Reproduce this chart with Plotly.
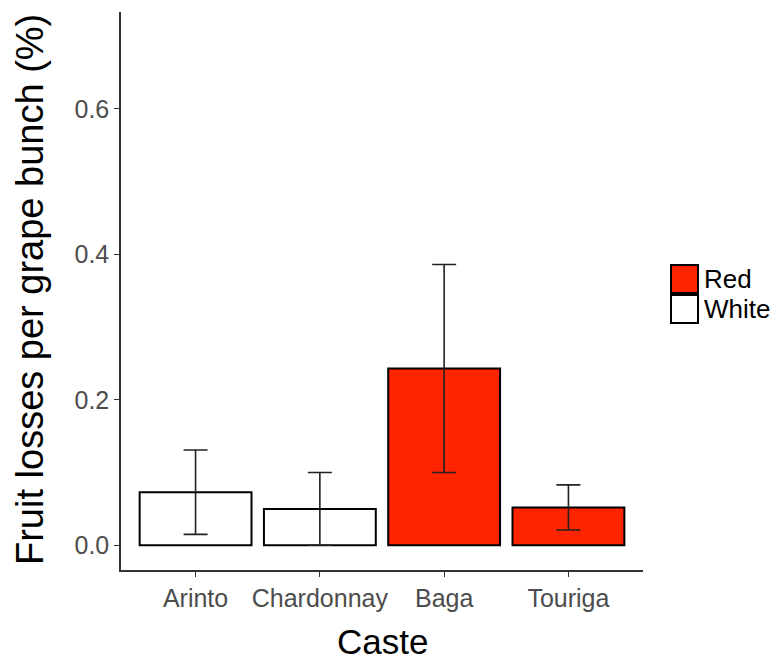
import plotly.graph_objects as go

# Fruit losses per grape bunch by caste, with asymmetric error bars
castes = ["Arinto", "Chardonnay", "Baga", "Touriga"]
colours = ["White", "White", "Red", "Red"]
mean_loss = [0.073, 0.050, 0.243, 0.052]
upper = [0.131, 0.100, 0.386, 0.083]
lower = [0.015, 0.000, 0.100, 0.021]

fill = {"Red": "#FF2400", "White": "#FFFFFF"}

W, H = 772, 659
L, R, T, B = 121, 129, 12, 89

fig = go.Figure()
for group in ["Red", "White"]:
    idx = [i for i, c in enumerate(colours) if c == group]
    xs = [castes[i] for i in idx]
    ys = [mean_loss[i] for i in idx]
    up = [upper[i] - mean_loss[i] for i in idx]
    dn = [mean_loss[i] - lower[i] for i in idx]
    fig.add_trace(go.Bar(
        x=xs, y=ys, name=group, width=0.9,
        marker=dict(color=fill[group], line=dict(color="black", width=2)),
        error_y=dict(type="data", symmetric=False, array=up, arrayminus=dn,
                     color="#222222", thickness=1.6, width=12),
        showlegend=False,
    ))

fig.update_layout(
    width=W, height=H,
    margin=dict(l=L, r=R, t=T, b=B, autoexpand=False),
    plot_bgcolor="white", paper_bgcolor="white",
    barmode="overlay",
    font=dict(family="Liberation Sans, Arial, sans-serif"),
)
fig.update_xaxes(
    categoryorder="array", categoryarray=castes, range=[-0.6, 3.6],
    showline=True, linecolor="#333333", linewidth=1.5,
    ticks="outside", ticklen=5, tickcolor="#333333", tickwidth=1.2,
    tickfont=dict(size=25, color="#4D4D4D"),
    showgrid=False, zeroline=False, automargin=False,
)
fig.update_yaxes(
    range=[-0.034, 0.733], tickvals=[0.0, 0.2, 0.4, 0.6],
    ticktext=["0.0", "0.2", "0.4", "0.6"],
    showline=True, linecolor="#333333", linewidth=1.5,
    ticks="outside", ticklen=5, tickcolor="#333333", tickwidth=1.2,
    tickfont=dict(size=25, color="#4D4D4D"),
    showgrid=False, zeroline=False, automargin=False,
)

pw, ph = W - L - R, H - T - B
def px_x(x):
    return (x - L) / pw
def px_y(y):
    return (H - B - y) / ph

# Axis titles
fig.add_annotation(text="Caste", xref="paper", yref="paper",
                   x=px_x(382), y=px_y(641), xanchor="center", yanchor="middle",
                   height=34, valign="middle",
                   showarrow=False, font=dict(size=35, color="black"))
fig.add_annotation(text="Fruit losses per grape bunch (%)", xref="paper", yref="paper",
                   x=px_x(30), y=px_y(290), xanchor="center", yanchor="middle",
                   textangle=-90, showarrow=False, font=dict(size=38, color="black"))

# Legend drawn as key boxes with labels to the right of the plot
keys = [("Red", 265), ("White", 295)]
for name, top in keys:
    fig.add_shape(type="rect", xref="paper", yref="paper",
                  x0=px_x(671), x1=px_x(698), y0=px_y(top + 28), y1=px_y(top),
                  fillcolor=fill[name], line=dict(color="black", width=2))
    fig.add_annotation(text=name, xref="paper", yref="paper",
                       x=px_x(702), y=px_y(top + 14), xanchor="left", yanchor="middle",
                       showarrow=False, font=dict(size=26, color="black"))

fig.write_html("out.html")
